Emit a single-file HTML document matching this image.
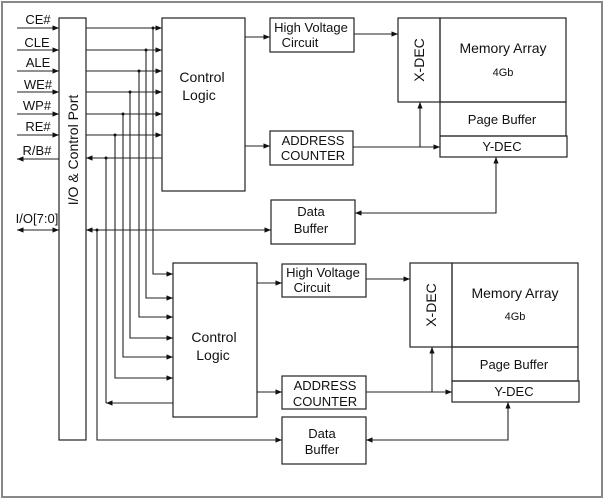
<!DOCTYPE html>
<html><head><meta charset="utf-8"><style>
html,body{margin:0;padding:0;background:#fff}
svg{display:block}
text{font-family:"Liberation Sans",Arial,sans-serif;fill:#111}
</style></head><body>
<svg width="605" height="500" viewBox="0 0 605 500" xmlns="http://www.w3.org/2000/svg">
<defs>
<marker id="a" viewBox="0 0 10 10" refX="10" refY="5" markerWidth="6" markerHeight="6" orient="auto-start-reverse"><path d="M0,1 L10,5 L0,9 z" fill="#111"/></marker>
</defs>
<rect x="2" y="2" width="600" height="495" fill="none" stroke="#888" stroke-width="2"/>
<g stroke="#222" stroke-width="1.2" fill="none">
<rect x="59" y="18" width="27" height="422"/>
<rect x="162" y="18" width="83" height="173"/>
<rect x="270" y="18" width="84" height="34"/>
<rect x="270" y="131" width="83" height="34"/>
<rect x="271" y="200" width="84" height="44"/>
<rect x="398" y="18" width="42" height="84"/>
<rect x="440" y="18" width="126" height="84"/>
<rect x="440" y="102" width="126" height="34"/>
<rect x="440" y="136" width="127" height="21"/>
<rect x="173" y="263" width="84" height="154"/>
<rect x="282" y="264" width="84" height="33"/>
<rect x="282" y="376" width="84" height="33"/>
<rect x="282" y="417" width="84" height="47"/>
<rect x="410" y="263" width="42" height="84"/>
<rect x="452" y="263" width="126" height="84"/>
<rect x="452" y="347" width="126" height="34"/>
<rect x="452" y="381" width="127" height="21"/>
</g>
<g stroke="#222" stroke-width="1.1" fill="none">
<line x1="17" y1="28" x2="59" y2="28" marker-end="url(#a)"/>
<line x1="17" y1="50" x2="59" y2="50" marker-end="url(#a)"/>
<line x1="17" y1="71" x2="59" y2="71" marker-end="url(#a)"/>
<line x1="17" y1="92" x2="59" y2="92" marker-end="url(#a)"/>
<line x1="17" y1="114" x2="59" y2="114" marker-end="url(#a)"/>
<line x1="17" y1="135" x2="59" y2="135" marker-end="url(#a)"/>
<line x1="59" y1="159" x2="17" y2="159" marker-end="url(#a)"/>
<line x1="17" y1="230" x2="59" y2="230" marker-start="url(#a)" marker-end="url(#a)"/>
<line x1="86" y1="28" x2="162" y2="28" marker-end="url(#a)"/>
<line x1="86" y1="50" x2="162" y2="50" marker-end="url(#a)"/>
<line x1="86" y1="71" x2="162" y2="71" marker-end="url(#a)"/>
<line x1="86" y1="92" x2="162" y2="92" marker-end="url(#a)"/>
<line x1="86" y1="114" x2="162" y2="114" marker-end="url(#a)"/>
<line x1="86" y1="135" x2="162" y2="135" marker-end="url(#a)"/>
<line x1="162" y1="158" x2="86" y2="158" marker-end="url(#a)"/>
<line x1="97" y1="230" x2="86" y2="230" marker-end="url(#a)"/>
<line x1="97" y1="230" x2="271" y2="230" marker-end="url(#a)"/>
<path d="M153,28 V274 H173" marker-end="url(#a)"/>
<path d="M146,50 V298 H173" marker-end="url(#a)"/>
<path d="M139,71 V317 H173" marker-end="url(#a)"/>
<path d="M130,92 V338 H173" marker-end="url(#a)"/>
<path d="M123,114 V357 H173" marker-end="url(#a)"/>
<path d="M115,135 V378 H173" marker-end="url(#a)"/>
<line x1="106" y1="158" x2="106" y2="403"/>
<line x1="173" y1="403" x2="106" y2="403" marker-end="url(#a)"/>
<path d="M97,230 V440 H282" marker-end="url(#a)"/>
<line x1="245" y1="37" x2="270" y2="37" marker-end="url(#a)"/>
<line x1="354" y1="34" x2="398" y2="34" marker-end="url(#a)"/>
<line x1="245" y1="146" x2="270" y2="146" marker-end="url(#a)"/>
<line x1="353" y1="147" x2="440" y2="147" marker-end="url(#a)"/>
<line x1="420" y1="147" x2="420" y2="102" marker-end="url(#a)"/>
<path d="M496,157 V213 H355" marker-start="url(#a)" marker-end="url(#a)"/>
<line x1="257" y1="283" x2="282" y2="283" marker-end="url(#a)"/>
<line x1="366" y1="279" x2="410" y2="279" marker-end="url(#a)"/>
<line x1="257" y1="392" x2="282" y2="392" marker-end="url(#a)"/>
<line x1="366" y1="392" x2="452" y2="392" marker-end="url(#a)"/>
<line x1="432" y1="392" x2="432" y2="347" marker-end="url(#a)"/>
<path d="M508,402 V440 H366" marker-start="url(#a)" marker-end="url(#a)"/>
</g>
<g fill="#111">
<circle cx="153" cy="28" r="1.5"/><circle cx="146" cy="50" r="1.5"/><circle cx="139" cy="71" r="1.5"/>
<circle cx="130" cy="92" r="1.5"/><circle cx="123" cy="114" r="1.5"/><circle cx="115" cy="135" r="1.5"/>
<circle cx="106" cy="158" r="1.5"/><circle cx="97" cy="230" r="1.5"/>
</g>
<g font-size="13" text-anchor="middle">
<text x="38" y="24">CE#</text>
<text x="37" y="47">CLE</text>
<text x="38" y="67">ALE</text>
<text x="38" y="89">WE#</text>
<text x="37" y="110">WP#</text>
<text x="38" y="131">RE#</text>
<text x="37" y="155">R/B#</text>
<text x="37" y="223">I/O[7:0]</text>
<text transform="translate(78,150) rotate(-90)" font-size="14">I/O &amp; Control Port</text>
<text x="202" y="82" font-size="14">Control</text>
<text x="199" y="100" font-size="14">Logic</text>
<text x="311" y="32">High Voltage</text>
<text x="300" y="47">Circuit</text>
<text x="313" y="145">ADDRESS</text>
<text x="313" y="160">COUNTER</text>
<text x="311" y="216">Data</text>
<text x="311" y="233">Buffer</text>
<text transform="translate(424,60) rotate(-90)" font-size="14">X-DEC</text>
<text x="503" y="53" font-size="14">Memory Array</text>
<text x="503" y="76" font-size="11">4Gb</text>
<text x="502" y="124">Page Buffer</text>
<text x="502" y="151">Y-DEC</text>
<text x="214" y="342" font-size="14">Control</text>
<text x="213" y="360" font-size="14">Logic</text>
<text x="323" y="277">High Voltage</text>
<text x="312" y="292">Circuit</text>
<text x="325" y="390">ADDRESS</text>
<text x="325" y="406">COUNTER</text>
<text x="322" y="438">Data</text>
<text x="322" y="454">Buffer</text>
<text transform="translate(436,305) rotate(-90)" font-size="14">X-DEC</text>
<text x="515" y="298" font-size="14">Memory Array</text>
<text x="515" y="320" font-size="11">4Gb</text>
<text x="514" y="369">Page Buffer</text>
<text x="514" y="396">Y-DEC</text>
</g>
</svg>
</body></html>
